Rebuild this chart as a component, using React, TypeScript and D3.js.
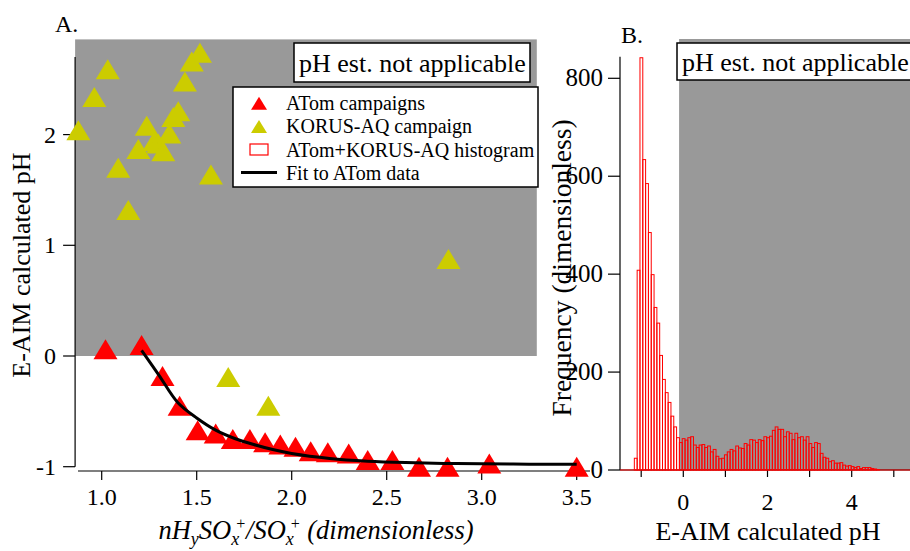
import { useEffect, useRef } from "react";
import * as d3 from "d3";

// panel A: ATom campaign points
const atomX = [1.02, 1.21, 1.32, 1.41, 1.505, 1.6, 1.69, 1.78, 1.86, 1.94, 2.02, 2.1, 2.19, 2.3, 2.4, 2.53, 2.67, 2.82, 3.04, 3.5];
const atomY = [0.06, 0.1, -0.18, -0.45, -0.67, -0.7, -0.75, -0.75, -0.78, -0.8, -0.82, -0.86, -0.87, -0.88, -0.94, -0.94, -1.0, -1.0, -0.97, -1.0];

// panel A: KORUS-AQ points
const korusX = [0.877, 0.961, 1.032, 1.087, 1.14, 1.193, 1.237, 1.277, 1.298, 1.324, 1.356, 1.377, 1.403, 1.438, 1.474, 1.517, 1.575, 2.825, 1.666, 1.877];
const korusY = [2.04, 2.34, 2.59, 1.7, 1.32, 1.87, 2.08, 1.94, 1.92, 1.85, 2.01, 2.16, 2.21, 2.48, 2.66, 2.74, 1.64, 0.876, -0.19, -0.45];

// fit to ATom data
const fitX = [1.21, 1.3, 1.4, 1.5, 1.6, 1.7, 1.8, 1.9, 2.0, 2.2, 2.4, 2.6, 2.8, 3.0, 3.25, 3.5];
const fitY = [0.05, -0.17, -0.42, -0.56, -0.67, -0.745, -0.8, -0.845, -0.88, -0.925, -0.95, -0.963, -0.97, -0.974, -0.977, -0.978];

// panel B: histogram
const histStart = -1.163;
const histBinWidth = 0.0669;
const histCounts = [
  24, 408, 842, 634, 585, 485, 399, 332, 300, 234,
  185, 158, 138, 110, 88, 66, 56, 64, 61, 66,
  68, 51, 46, 51, 52, 46, 49, 37, 42, 28,
  23, 24, 31, 37, 42, 39, 49, 45, 44, 54,
  51, 62, 61, 56, 62, 60, 68, 66, 69, 81,
  88, 83, 83, 68, 78, 75, 62, 75, 66, 68,
  61, 68, 54, 46, 56, 54, 34, 26, 24, 17,
  19, 14, 14, 15, 10, 8, 9, 7, 5, 7,
  3, 5, 5, 5, 3, 2, 1,
];

const xTicksA = [1.0, 1.5, 2.0, 2.5, 3.0, 3.5];
const yTicksA = [-1, 0, 1, 2];
const xTicksB = [-1, 0, 1, 2, 3, 4, 5];
const yTicksB = [0, 200, 400, 600, 800];

const legendItems = ["ATom campaigns", "KORUS-AQ campaign", "ATom+KORUS-AQ histogram", "Fit to ATom data"];

const FONT = "'Liberation Serif', 'Times New Roman', serif";
const GRAY = "#999999";
const YEL = "#cccc00";
const RED = "#ff0000";

export default function App() {
  const svgRef = useRef(null);

  useEffect(() => {
    const svg = d3.select(svgRef.current);
    svg.selectAll("*").remove();

    const xA = d3.scaleLinear().domain([1, 3.5]).range([101.7, 576.7]);
    const yA = d3.scaleLinear().domain([-1, 0]).range([466.7, 356]);
    const xB = d3.scaleLinear().domain([0, 4]).range([683.3, 851.7]);
    const yB = d3.scaleLinear().domain([0, 800]).range([470, 78.3]);

    const tri = (cx, cy, w, h) => `M${cx - w / 2},${cy + h / 2}L${cx + w / 2},${cy + h / 2}L${cx},${cy - h / 2}Z`;

    // ---------- panel A ----------
    const a = svg.append("g");

    a.append("rect")
      .attr("x", xA(0.86)).attr("y", yA(2.86))
      .attr("width", xA(3.29) - xA(0.86)).attr("height", yA(0) - yA(2.86))
      .attr("fill", GRAY);

    // y axis
    a.append("line")
      .attr("x1", xA(0.86)).attr("x2", xA(0.86))
      .attr("y1", yA(2.7)).attr("y2", yA(-1))
      .attr("stroke", "black").attr("stroke-width", 1.2);
    yTicksA.forEach(t => {
      a.append("line")
        .attr("x1", xA(0.86) - 12).attr("x2", xA(0.86))
        .attr("y1", yA(t)).attr("y2", yA(t))
        .attr("stroke", "black").attr("stroke-width", 1.2);
      a.append("text")
        .attr("x", xA(0.86) - 19).attr("y", yA(t) + 8)
        .attr("text-anchor", "end")
        .style("font-size", "24px").style("font-family", FONT)
        .text(t);
    });

    // x axis
    const xAxisY = 471;
    a.append("line")
      .attr("x1", xA(0.875)).attr("x2", xA(3.57))
      .attr("y1", xAxisY).attr("y2", xAxisY)
      .attr("stroke", "black").attr("stroke-width", 1.2);
    xTicksA.forEach(t => {
      a.append("line")
        .attr("x1", xA(t)).attr("x2", xA(t))
        .attr("y1", xAxisY).attr("y2", xAxisY + 9)
        .attr("stroke", "black").attr("stroke-width", 1.2);
      a.append("text")
        .attr("x", xA(t)).attr("y", 505)
        .attr("text-anchor", "middle")
        .style("font-size", "24px").style("font-family", FONT)
        .text(t.toFixed(1));
    });

    const fitLine = d3.line()
      .x(i => xA(fitX[i]))
      .y(i => yA(fitY[i]))
      .curve(d3.curveCatmullRom);

    // points
    a.selectAll("path.korus")
      .data(d3.range(korusX.length))
      .join("path")
      .attr("class", "korus")
      .attr("d", i => tri(xA(korusX[i]), yA(korusY[i]), 24, 20))
      .attr("fill", YEL);

    a.selectAll("path.atom")
      .data(d3.range(atomX.length))
      .join("path")
      .attr("class", "atom")
      .attr("d", i => tri(xA(atomX[i]), yA(atomY[i]), 24, 20))
      .attr("fill", RED);

    // fit over the points
    a.append("path")
      .datum(d3.range(fitX.length))
      .attr("d", fitLine)
      .attr("fill", "none").attr("stroke", "black").attr("stroke-width", 3);

    // "not applicable" box
    a.append("rect")
      .attr("x", 294).attr("y", 43).attr("width", 236).attr("height", 39)
      .attr("fill", "white").attr("stroke", "black").attr("stroke-width", 1.5);
    a.append("text")
      .attr("x", 299).attr("y", 72)
      .style("font-size", "26px").style("font-family", FONT)
      .text("pH est. not applicable");

    // legend
    const lg = a.append("g");
    lg.append("rect")
      .attr("x", 233).attr("y", 87).attr("width", 305).attr("height", 100)
      .attr("fill", "white").attr("stroke", "black").attr("stroke-width", 1.5);
    legendItems.forEach((name, i) => {
      const cy = 103.3 + i * 23.1;
      if (i === 0) lg.append("path").attr("d", tri(259, cy, 16, 13)).attr("fill", RED);
      if (i === 1) lg.append("path").attr("d", tri(259, cy, 16, 13)).attr("fill", YEL);
      if (i === 2) lg.append("rect").attr("x", 250).attr("y", cy - 5.5).attr("width", 18).attr("height", 11)
        .attr("fill", "white").attr("stroke", RED).attr("stroke-width", 1.2);
      if (i === 3) lg.append("line").attr("x1", 241).attr("x2", 277).attr("y1", cy).attr("y2", cy)
        .attr("stroke", "black").attr("stroke-width", 3);
      lg.append("text")
        .attr("x", 286).attr("y", cy + 7)
        .style("font-size", "20px").style("font-family", FONT)
        .text(name);
    });

    // titles
    a.append("text")
      .attr("x", 55).attr("y", 32)
      .style("font-size", "24px").style("font-family", FONT)
      .text("A.");

    a.append("text")
      .attr("transform", "translate(30,265) rotate(-90)")
      .attr("text-anchor", "middle")
      .style("font-size", "26px").style("font-family", FONT)
      .text("E-AIM calculated pH");

    const xt = a.append("text")
      .attr("x", 316).attr("y", 539)
      .attr("text-anchor", "middle")
      .style("font-size", "26.5px").style("font-family", FONT)
      .style("font-style", "italic");
    xt.append("tspan").text("nH");
    xt.append("tspan").attr("dy", 6).style("font-size", "18px").text("y");
    xt.append("tspan").attr("dy", -6).text("SO");
    xt.append("tspan").attr("dy", 6).style("font-size", "18px").text("x");
    xt.append("tspan").attr("dx", -4).attr("dy", -16).style("font-size", "16px").text("+");
    xt.append("tspan").attr("dy", 10).text("/SO");
    xt.append("tspan").attr("dy", 6).style("font-size", "18px").text("x");
    xt.append("tspan").attr("dx", -4).attr("dy", -16).style("font-size", "16px").text("+");
    xt.append("tspan").attr("dy", 10).text(" (dimensionless)");

    // ---------- panel B ----------
    const b = svg.append("g");

    b.append("rect")
      .attr("x", xB(-0.1)).attr("y", 39)
      .attr("width", 910 - xB(-0.1)).attr("height", yB(0) - 39)
      .attr("fill", GRAY);

    // x axis
    b.append("line")
      .attr("x1", 620).attr("x2", 910)
      .attr("y1", yB(0)).attr("y2", yB(0))
      .attr("stroke", "black").attr("stroke-width", 1.2);
    xTicksB.forEach(t => {
      b.append("line")
        .attr("x1", xB(t)).attr("x2", xB(t))
        .attr("y1", yB(0)).attr("y2", yB(0) + 7)
        .attr("stroke", "black").attr("stroke-width", 1.2);
      if (t % 2 === 0) {
        b.append("text")
          .attr("x", xB(t)).attr("y", 510)
          .attr("text-anchor", "middle")
          .style("font-size", "24px").style("font-family", FONT)
          .text(t);
      }
    });

    // y axis
    b.append("line")
      .attr("x1", 620).attr("x2", 620)
      .attr("y1", 56.7).attr("y2", yB(0))
      .attr("stroke", "black").attr("stroke-width", 1.2);
    yTicksB.forEach(t => {
      b.append("line")
        .attr("x1", 608).attr("x2", 620)
        .attr("y1", yB(t)).attr("y2", yB(t))
        .attr("stroke", "black").attr("stroke-width", 1.2);
      b.append("text")
        .attr("x", 603).attr("y", yB(t) + 8)
        .attr("text-anchor", "end")
        .style("font-size", "25px").style("font-family", FONT)
        .text(t);
    });

    // histogram (zero bins along the baseline)
    b.append("line")
      .attr("x1", 620).attr("x2", 910)
      .attr("y1", yB(0)).attr("y2", yB(0))
      .attr("stroke", RED).attr("stroke-width", 1.2);
    b.selectAll("rect.bin")
      .data(histCounts)
      .join("rect")
      .attr("class", "bin")
      .attr("x", (d, i) => xB(histStart + i * histBinWidth))
      .attr("width", xB(histBinWidth) - xB(0))
      .attr("y", d => yB(d))
      .attr("height", d => yB(0) - yB(d))
      .attr("fill", "none")
      .attr("stroke", RED)
      .attr("stroke-width", 1);

    b.append("rect")
      .attr("x", 677).attr("y", 43).attr("width", 250).attr("height", 37)
      .attr("fill", "white").attr("stroke", "black").attr("stroke-width", 1.5);
    b.append("text")
      .attr("x", 682).attr("y", 71)
      .style("font-size", "26px").style("font-family", FONT)
      .text("pH est. not applicable");

    b.append("text")
      .attr("x", 621).attr("y", 43)
      .style("font-size", "24px").style("font-family", FONT)
      .text("B.");

    b.append("text")
      .attr("transform", "translate(571,268) rotate(-90)")
      .attr("text-anchor", "middle")
      .style("font-size", "27.5px").style("font-family", FONT)
      .text("Frequency (dimensionless)");

    b.append("text")
      .attr("x", 768).attr("y", 540)
      .attr("text-anchor", "middle")
      .style("font-size", "26px").style("font-family", FONT)
      .text("E-AIM calculated pH");
  }, []);

  return (
    <div>
      <svg
        ref={svgRef}
        width={910}
        height={551}
        style={{ position: "absolute", left: 0, top: 0, background: "white" }}
      />
    </div>
  );
}
